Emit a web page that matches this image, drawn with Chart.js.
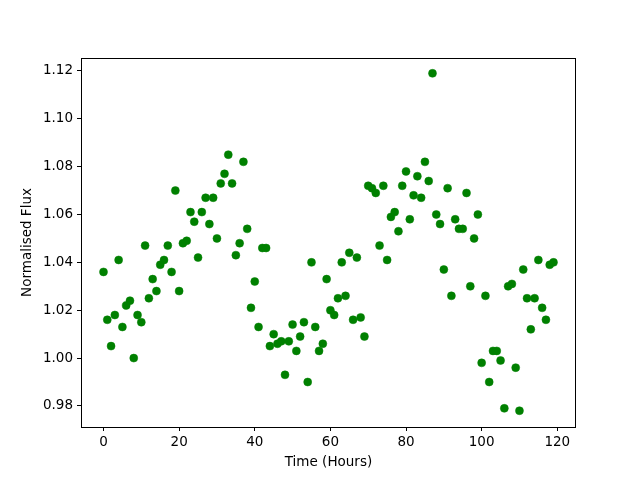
<!DOCTYPE html>
<html>
<head>
<meta charset="utf-8">
<script src="https://cdn.jsdelivr.net/npm/chart.js@4/dist/chart.umd.min.js"></script>
<style>
  body { margin: 0; background: white; }
  canvas { display: block; }
</style>
</head>
<body>
<canvas id="flux-chart" width="640" height="480"></canvas>
<script>
// hours 0..119, one reading per hour
const hours = [];
for (let i = 0; i < 120; i++) hours.push(i);

const flux = [
    1.036, 1.016, 1.005, 1.018, 1.041, 1.013, 1.022, 1.024, 1.000, 1.018,
    1.015, 1.047, 1.025, 1.033, 1.028, 1.039, 1.041, 1.047, 1.036, 1.070,
    1.028, 1.048, 1.049, 1.061, 1.057, 1.042, 1.061, 1.067, 1.056, 1.067,
    1.050, 1.073, 1.077, 1.085, 1.073, 1.043, 1.048, 1.082, 1.054, 1.021,
    1.032, 1.013, 1.046, 1.046, 1.005, 1.010, 1.006, 1.007, 0.993, 1.007,
    1.014, 1.003, 1.009, 1.015, 0.990, 1.040, 1.013, 1.003, 1.006, 1.033,
    1.020, 1.018, 1.025, 1.040, 1.026, 1.044, 1.016, 1.042, 1.017, 1.009,
    1.072, 1.071, 1.069, 1.047, 1.072, 1.041, 1.059, 1.061, 1.053, 1.072,
    1.078, 1.058, 1.068, 1.076, 1.067, 1.082, 1.074, 1.119, 1.060, 1.056,
    1.037, 1.071, 1.026, 1.058, 1.054, 1.054, 1.069, 1.030, 1.050, 1.060,
    0.998, 1.026, 0.990, 1.003, 1.003, 0.999, 0.979, 1.030, 1.031, 0.996,
    0.978, 1.037, 1.025, 1.012, 1.025, 1.041, 1.021, 1.016, 1.039, 1.040
];

const xTicks = [0, 20, 40, 60, 80, 100, 120];
const yTicks = [0.98, 1.00, 1.02, 1.04, 1.06, 1.08, 1.10, 1.12];

const points = hours.map((h, i) => ({ x: h, y: flux[i] }));

Chart.defaults.font.family = "'DejaVu Sans', sans-serif";
Chart.defaults.font.size = 13.5;
Chart.defaults.color = '#000';

// black frame round the plot area
const frame = {
    id: 'frame',
    afterDraw(chart) {
        const a = chart.chartArea;
        const ctx = chart.ctx;
        ctx.save();
        ctx.strokeStyle = '#000';
        ctx.lineWidth = 1;
        ctx.strokeRect(Math.round(a.left) + 0.5, Math.round(a.top) + 0.5,
            Math.round(a.right - a.left) - 1, Math.round(a.bottom - a.top));
        ctx.restore();
    }
};

new Chart('flux-chart', {
    type: 'scatter',
    data: {
        datasets: [{
            data: points,
            backgroundColor: '#008000',
            borderColor: '#008000',
            borderWidth: 0.5,
            pointRadius: 4,
        }]
    },
    options: {
        responsive: false,
        animation: false,
        layout: { padding: { top: 58, right: 64, left: 0, bottom: 0 } },
        plugins: { legend: { display: false }, tooltip: { enabled: false } },
        scales: {
            x: {
                min: -5.95,
                max: 124.95,
                afterFit: s => { s.height = 53; },
                afterBuildTicks: s => { s.ticks = xTicks.map(v => ({ value: v })); },
                ticks: { padding: 3, maxRotation: 0, callback: v => String(v) },
                grid: { drawOnChartArea: false, drawTicks: true, tickLength: 4, color: '#000' },
                border: { display: false },
                title: { display: true, text: 'Time (Hours)', padding: { top: 4, bottom: 9 } }
            },
            y: {
                min: 0.9712,
                max: 1.1254,
                afterFit: s => { s.width = 81; },
                afterBuildTicks: s => { s.ticks = yTicks.map(v => ({ value: v })); },
                ticks: { padding: 4, callback: v => v.toFixed(2) },
                grid: { drawOnChartArea: false, drawTicks: true, tickLength: 4, color: '#000' },
                border: { display: false },
                title: { display: true, text: 'Normalised Flux', padding: { top: 19, bottom: 0 } }
            }
        }
    },
    plugins: [frame]
});
</script>
</body>
</html>
